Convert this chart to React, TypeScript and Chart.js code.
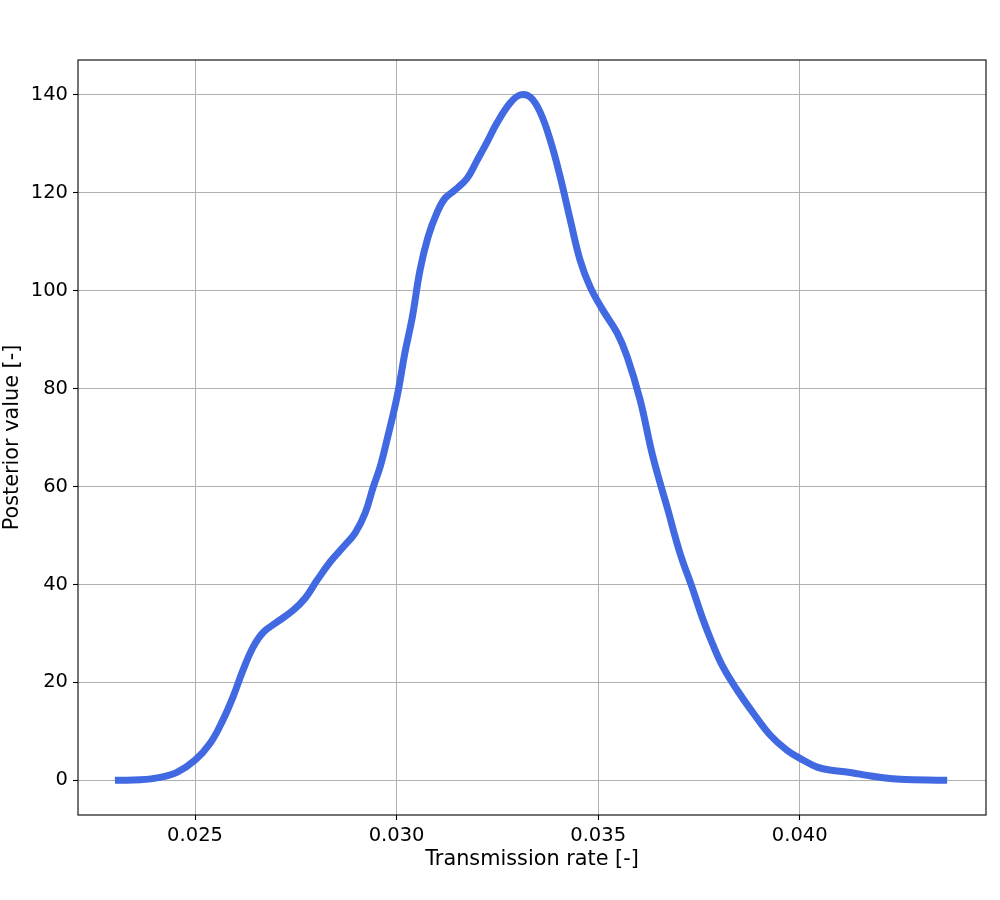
import React, { useEffect, useRef } from "react";
import { Chart, registerables } from "chart.js";

Chart.register(...registerables);

const rateValues = [
  0.0231, 0.02364, 0.02413, 0.02455, 0.025, 0.02537, 0.02569, 0.02594, 0.02619, 0.02644,
  0.02669, 0.02703, 0.02743, 0.02773, 0.02803, 0.02835, 0.02867, 0.02897, 0.02922, 0.02942,
  0.02959, 0.02976, 0.03001, 0.03021, 0.03039, 0.03058, 0.03078, 0.031, 0.0312, 0.03145,
  0.03175, 0.032, 0.03227, 0.03249, 0.03282, 0.03306, 0.03331, 0.03356, 0.03381, 0.03406,
  0.03431, 0.03455, 0.0348, 0.03512, 0.03547, 0.03572, 0.03604, 0.03636, 0.03671, 0.03703,
  0.03733, 0.03758, 0.03783, 0.0381, 0.03845, 0.03885, 0.03927, 0.03969, 0.04009, 0.04043,
  0.04083, 0.04125, 0.04167, 0.04207, 0.04249, 0.04357,
];
const posteriorValues = [
  0, 0.1, 0.6, 1.6, 4.1, 7.5, 12.3, 17, 22.5, 27.2,
  30.2, 32.3, 34.7, 37.2, 40.9, 44.6, 47.6, 50.5, 54.6, 59.9,
  64, 69.5, 78.3, 87.5, 94.6, 104.2, 111, 115.9, 118.9, 120.6,
  123, 126.7, 130.8, 134.3, 138.4, 140, 139.6, 136.5, 130.8, 123.2,
  114.4, 106.3, 100.8, 96, 91.4, 86.5, 77.7, 66, 55.8, 46.4,
  39.4, 33.3, 28, 23.1, 18.4, 13.7, 9.2, 6.1, 4.1, 2.7,
  2.0, 1.6, 1.0, 0.5, 0.2, 0,
];
const xTicks = [0.025, 0.03, 0.035, 0.04];
const yTicks = [0, 20, 40, 60, 80, 100, 120, 140];

const FONT = "'DejaVu Sans', sans-serif";

const framePlugin = {
  id: "frame",
  afterDraw(chart: any) {
    const { ctx, chartArea } = chart;
    ctx.save();
    ctx.strokeStyle = "#000";
    ctx.lineWidth = 1.1;
    ctx.strokeRect(chartArea.left, chartArea.top, chartArea.right - chartArea.left, chartArea.bottom - chartArea.top);
    ctx.restore();
  },
};

export default function App() {
  const ref = useRef<HTMLCanvasElement>(null);
  useEffect(() => {
    const chart = new Chart(ref.current!, {
      type: "line",
      data: {
        datasets: [
          {
            data: rateValues.map((x, i) => ({ x, y: posteriorValues[i] })),
            borderColor: "#4169E1",
            borderWidth: 7,
            pointRadius: 0,
            tension: 0.4,
            borderCapStyle: "square",
            borderJoinStyle: "round",
            fill: false,
          },
        ],
      },
      options: {
        animation: false,
        responsive: false,
        layout: { padding: { left: 0, top: 60, right: 14, bottom: 27.5 } },
        plugins: { legend: { display: false }, tooltip: { enabled: false } },
        scales: {
          x: {
            type: "linear",
            min: 0.022097,
            max: 0.04462,
            afterBuildTicks: (s: any) => {
              s.ticks = xTicks.map((v) => ({ value: v }));
            },
            afterFit: (s: any) => {
              s.height = 57.5;
            },
            grid: { color: "#b0b0b0", lineWidth: 1, tickLength: 5, tickColor: "#000", tickWidth: 1.1 },
            border: { display: false },
            ticks: {
              color: "#000",
              font: { family: FONT, size: 19.5 },
              padding: 4,
              maxRotation: 0,
              callback: (v: any) => Number(v).toFixed(3),
            },
            title: {
              display: true,
              text: "Transmission rate [-]",
              color: "#000",
              font: { family: FONT, size: 20.8 },
              padding: { top: 0, bottom: 0 },
            },
          },
          y: {
            type: "linear",
            min: -7.09,
            max: 147.15,
            afterBuildTicks: (s: any) => {
              s.ticks = yTicks.map((v) => ({ value: v }));
            },
            afterFit: (s: any) => {
              s.width = 78;
            },
            grid: { color: "#b0b0b0", lineWidth: 1, tickLength: 5, tickColor: "#000", tickWidth: 1.1 },
            border: { display: false },
            ticks: {
              color: "#000",
              font: { family: FONT, size: 19.5 },
              padding: 5,
              callback: (v: any) => String(v),
            },
            title: {
              display: true,
              text: "Posterior value [-]",
              color: "#000",
              font: { family: FONT, size: 20.8 },
              padding: { top: 0, bottom: 0 },
            },
          },
        },
      },
      plugins: [framePlugin],
    });
    return () => chart.destroy();
  }, []);
  return (
    <div style={{ position: "absolute", left: 0, top: 0, width: 1000, height: 900, background: "#fff" }}>
      <canvas ref={ref} width={1000} height={900} style={{ width: 1000, height: 900 }} />
    </div>
  );
}
